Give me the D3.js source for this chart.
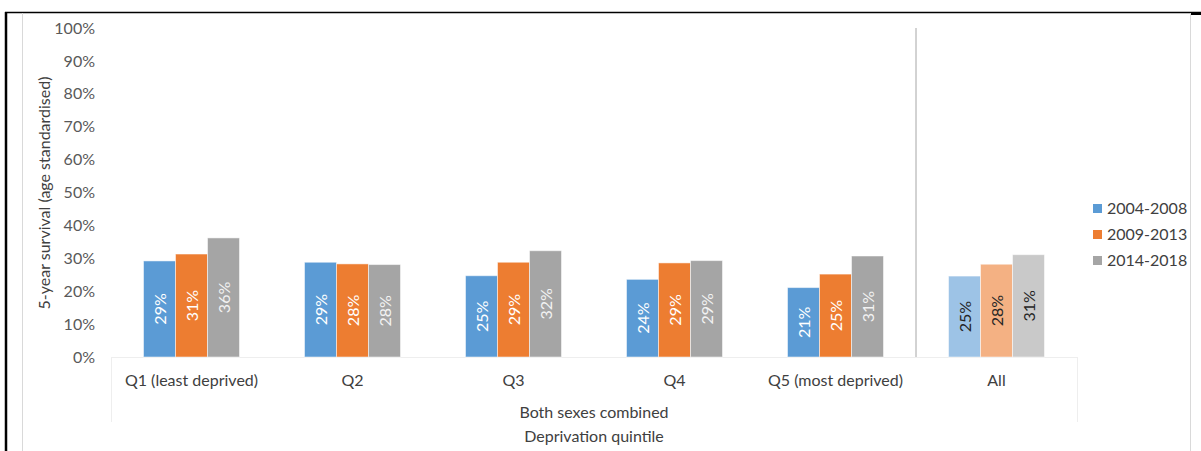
<!DOCTYPE html>
<html>
<head>
<meta charset="utf-8">
<script src="https://cdn.jsdelivr.net/npm/d3@7"></script>
<style>
body { margin:0; background:#fff; }
text { font-family: Lato, "Open Sans", sans-serif; }
</style>
</head>
<body>
<div id="chart"></div>
<script>
// categories and series
let categories = ["Q1 (least deprived)","Q2","Q3","Q4","Q5 (most deprived)","All"];
let periods = ["2004-2008","2009-2013","2014-2018"];
let s2004 = [29.2, 28.8, 24.7, 23.6, 21.1, 24.6];
let s2009 = [31.3, 28.3, 28.8, 28.6, 25.2, 28.2];
let s2014 = [36.2, 28.1, 32.3, 29.3, 30.7, 31.1];
let yTicks = [0,10,20,30,40,50,60,70,80,90,100];

let colors = ["#5B9BD5","#ED7D31","#A5A5A5"];
let colorsAll = ["#9DC3E6","#F4B183","#C9C9C9"];

let svgWidth = 1201, svgHeight = 451;
let plotLeft = 111, plotRight = 1077, plotTop = 28, plotBottom = 357;
let fs = "16px";

let svg = d3.select("#chart").append("svg")
    .attr("width", svgWidth)
    .attr("height", svgHeight);

// frame lines (border of the embedded chart)
svg.append("line").attr("x1",5).attr("x2",1201).attr("y1",12.5).attr("y2",12.5)
    .attr("stroke","#000").attr("stroke-width",1.5);
svg.append("line").attr("x1",6).attr("x2",6).attr("y1",12).attr("y2",451)
    .attr("stroke","#000").attr("stroke-width",2.5);
svg.append("line").attr("x1",1190).attr("x2",1201).attr("y1",13.5).attr("y2",13.5)
    .attr("stroke","#000").attr("stroke-width",3);
svg.append("line").attr("x1",22.5).attr("x2",22.5).attr("y1",13).attr("y2",451)
    .attr("stroke","#d9d9d9").attr("stroke-width",1);
svg.append("line").attr("x1",1190.5).attr("x2",1190.5).attr("y1",13).attr("y2",451)
    .attr("stroke","#d9d9d9").attr("stroke-width",1);

let x = d3.scaleBand().domain(categories).range([plotLeft, plotRight]);
let y = d3.scaleLinear().domain([0,100]).range([plotBottom, plotTop]);
let barW = 32;
let xs = d3.scaleBand().domain(periods).range([0, barW*3]);

// y axis (labels only)
let yAxis = d3.axisLeft(y).tickValues(yTicks).tickSize(0).tickPadding(0)
    .tickFormat(d => d + "%");
let gy = svg.append("g").attr("transform","translate(95,0)").call(yAxis);
gy.select(".domain").remove();
gy.selectAll("text").attr("fill","#595959").style("font-size",fs)
    .style("font-family","Lato, sans-serif");

// y title
svg.append("text")
    .attr("transform","translate(50,193) rotate(-90)")
    .attr("text-anchor","middle")
    .attr("fill","#404040")
    .style("font-size",fs)
    .text("5-year survival (age standardised)");

// category box (multi-level axis)
svg.append("line").attr("x1",plotLeft).attr("x2",plotRight).attr("y1",plotBottom+0.5).attr("y2",plotBottom+0.5)
    .attr("stroke","#eeeeee");
svg.append("line").attr("x1",plotLeft+0.5).attr("x2",plotLeft+0.5).attr("y1",plotBottom).attr("y2",422)
    .attr("stroke","#eeeeee");
svg.append("line").attr("x1",plotRight+0.5).attr("x2",plotRight+0.5).attr("y1",plotBottom).attr("y2",422)
    .attr("stroke","#eeeeee");

// separator before "All"
let sepX = x("All");
svg.append("line").attr("x1",sepX).attr("x2",sepX).attr("y1",plotTop).attr("y2",plotBottom)
    .attr("stroke","#a6a6a6").attr("stroke-width",1);

// bars
let series = [s2004, s2009, s2014];
let rows = [];
categories.forEach((c,i) => {
    periods.forEach((p,j) => {
        rows.push({cat:c, period:p, j:j, value:series[j][i], all: c === "All"});
    });
});

let groupOff = (x.bandwidth() - barW*3) / 2;

let bars = svg.append("g").selectAll("g").data(rows).join("g")
    .attr("transform", d => "translate(" + (x(d.cat) + groupOff + xs(d.period)) + ",0)");

bars.append("rect")
    .attr("x",0)
    .attr("y", d => y(d.value))
    .attr("width", xs.bandwidth())
    .attr("height", d => y(0) - y(d.value))
    .attr("fill", d => d.all ? colorsAll[d.j] : colors[d.j])
    .attr("stroke","#ffffff").attr("stroke-opacity",0.5).attr("stroke-width",1);

bars.append("text")
    .attr("transform", d => "translate(" + (xs.bandwidth()/2 + 6) + "," + ((y(d.value)+y(0))/2) + ") rotate(-90)")
    .attr("text-anchor","middle")
    .attr("fill", d => d.all ? "#262626" : (d.j === 2 ? "#f2f2f2" : "#ffffff"))
    .style("font-size",fs)
    .text(d => Math.round(d.value) + "%");

// category labels
svg.append("g").selectAll("text").data(categories).join("text")
    .attr("x", d => x(d) + x.bandwidth()/2)
    .attr("y", 386)
    .attr("text-anchor","middle")
    .attr("fill","#404040")
    .style("font-size",fs)
    .text(d => d);

svg.append("text").attr("x",(plotLeft+plotRight)/2).attr("y",418)
    .attr("text-anchor","middle").attr("fill","#404040").style("font-size",fs)
    .text("Both sexes combined");
svg.append("text").attr("x",(plotLeft+plotRight)/2).attr("y",442)
    .attr("text-anchor","middle").attr("fill","#404040").style("font-size",fs)
    .text("Deprivation quintile");

// legend
let legend = svg.append("g").selectAll("g").data(periods).join("g")
    .attr("transform", (d,i) => "translate(1093," + (204 + i*26) + ")");
legend.append("rect").attr("width",9).attr("height",9)
    .attr("fill", (d,i) => colors[i]);
legend.append("text").attr("x",14).attr("y",10)
    .attr("fill","#404040").style("font-size",fs)
    .text(d => d);
</script>
</body>
</html>
